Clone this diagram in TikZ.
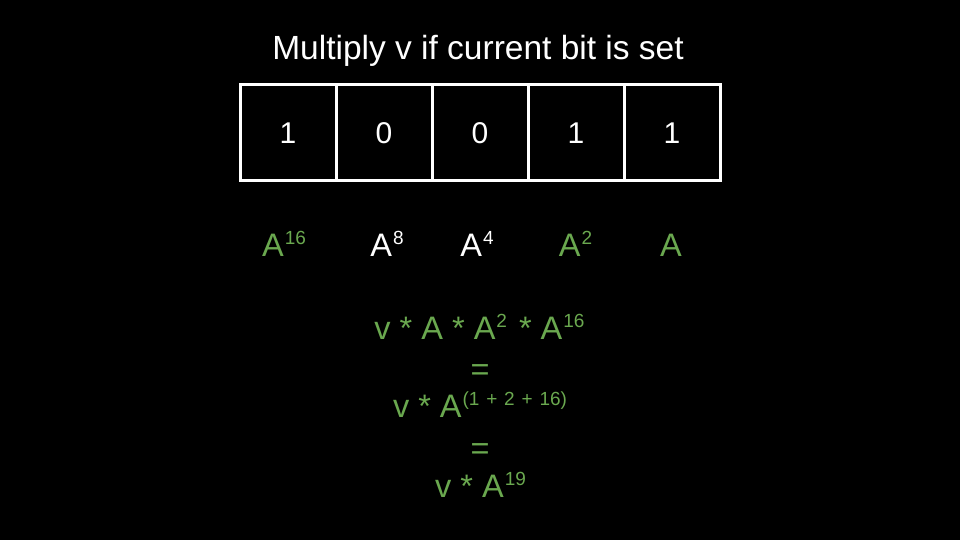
\documentclass[tikz,border=0pt]{standalone}
\usepackage{fontspec}
\setmainfont{Liberation Sans}
\definecolor{grn}{HTML}{6AA84F}
\newcommand\supr[1]{\hspace{1pt}\raisebox{11.5pt}{\fontsize{19}{22}\selectfont #1}}
\begin{document}
\begin{tikzpicture}[x=1pt,y=-1pt,
  txt/.style={text=white,inner sep=0pt,anchor=base,font=\fontsize{32.5}{40}\selectfont},
  gtxt/.style={txt,text=grn},
  cell/.style={draw=white,line width=3pt,minimum width=96pt,minimum height=96pt,inner sep=0pt,text=white,font=\fontsize{30}{36}\selectfont}]
\useasboundingbox (0,0) rectangle (960,540);
\fill[black] (0,0) rectangle (960,540);
\node[txt,font=\fontsize{33.5}{40}\selectfont] (title) at (478,60) {Multiply v if current bit is set};
\node[cell] (c1) at (288,133) {1};
\node[cell] (c2) at (384,133) {0};
\node[cell] (c3) at (480,133) {0};
\node[cell] (c4) at (576,133) {1};
\node[cell] (c5) at (672,133) {1};
\node[gtxt] (a16) at (284,256) {A\supr{16}};
\node[txt] (a8) at (387,256) {A\supr{8}};
\node[txt] (a4) at (477,256) {A\supr{4}};
\node[gtxt] (a2) at (575.5,256) {A\supr{2}};
\node[gtxt] (a1) at (671,256) {A};
\node[gtxt] (e1) at (479.5,339) {v * A * A\supr{2}\hspace{3pt} * A\supr{16}};
\node[gtxt] (eq1) at (480,380) {=};
\node[gtxt] (e2) at (480,417) {v * A\supr{\spaceskip=6.8pt (1 + 2 + 16)}};
\node[gtxt] (eq2) at (480,459) {=};
\node[gtxt] (e3) at (480.5,497) {v * A\supr{19}};
\end{tikzpicture}
\end{document}
